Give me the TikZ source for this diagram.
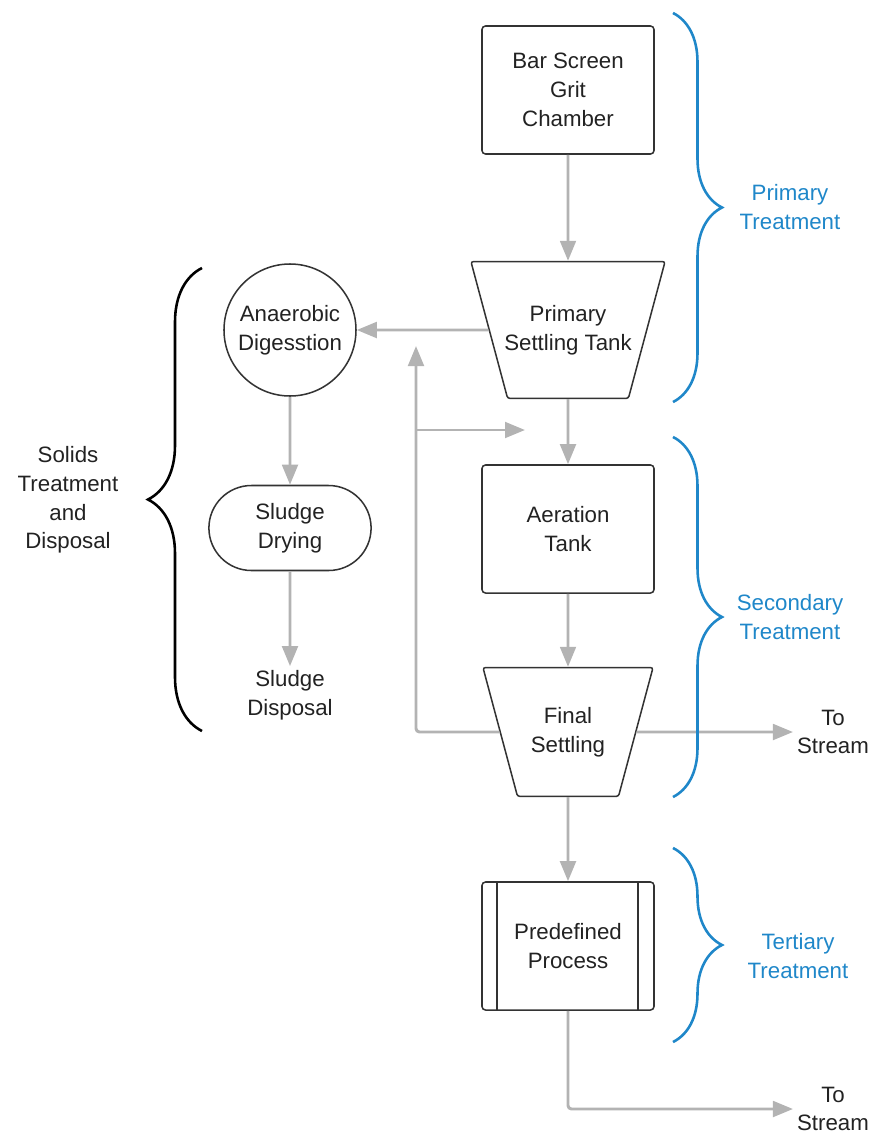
\documentclass[tikz,border=0pt]{standalone}
\usepackage{fontspec}
\setmainfont{Liberation Sans}
\usepackage{xcolor}
\definecolor{linegray}{HTML}{B3B3B3}
\definecolor{bordergray}{HTML}{333333}
\definecolor{textgray}{HTML}{222222}
\definecolor{braceblue}{HTML}{1F87C9}
\usetikzlibrary{positioning,shapes.geometric,shapes.misc,arrows.meta,decorations.pathreplacing}

\begin{document}
\begin{tikzpicture}[x=0.03cm,y=-0.03cm,
    every node/.style={font=\fontsize{19}{24.5}\selectfont,align=center,text=textgray},
    box/.style={draw=bordergray,line width=1.3pt,rounded corners=3pt,minimum width=5.16cm,minimum height=3.84cm,inner sep=0pt},
    tank/.style={draw=bordergray,line width=1.3pt,trapezium,shape border rotate=180,trapezium stretches body=true,trapezium angle=75,rounded corners=2pt,inner xsep=0pt},
    flow/.style={draw=linegray,line width=2.5pt,rounded corners=3pt,-{Triangle[length=0.6cm,width=0.47cm]}},
    bluebrace/.style={draw=braceblue,line width=2.2pt,decorate,decoration={brace,amplitude=1.47cm}},
    bluetext/.style={text=braceblue}]
    \useasboundingbox (0,0) rectangle (874,1135);
    % Main treatment line
    \node[box] (bsg) at (568,90) {Bar Screen\\Grit\\Chamber};
    \node[tank,minimum width=5.73cm,inner xsep=-0.1cm,inner ysep=1.31cm] (pst) at (568,330) {Primary\\Settling Tank};
    \node[box] (aer) at (568,529) {Aeration\\Tank};
    \node[tank,minimum width=5.1cm,inner ysep=1.19cm] (fs) at (568,732) {Final\\Settling};
    \node[box] (pp) at (568,946) {Predefined\\Process};
    \draw[bordergray,line width=1.3pt] ([xshift=0.48cm]pp.north west) -- ([xshift=0.48cm]pp.south west);
    \draw[bordergray,line width=1.3pt] ([xshift=-0.5cm]pp.north east) -- ([xshift=-0.5cm]pp.south east);
    \node (ts1) at (833,732) {To\\Stream};
    \node (ts2) at (833,1109) {To\\Stream};
    % Solids branch
    \node[circle,draw=bordergray,line width=1.3pt,minimum size=3.96cm,inner sep=0pt] (ad) at (290,330) {Anaerobic\\Digesstion};
    \node[rounded rectangle,draw=bordergray,line width=1.3pt,minimum width=5.1cm,minimum height=2.55cm] (sd) at (290,528) {Sludge\\Drying};
    \node (disp) at (290,695) {Sludge\\Disposal};
    % Labels
    \node[bluetext] (lprim) at (790,207) {Primary\\Treatment};
    \node[bluetext] (lsec) at (790,617) {Secondary\\Treatment};
    \node[bluetext] (lter) at (798,956) {Tertiary\\Treatment};
    \node (lsol) at (68,500) {Solids\\Treatment\\and\\Disposal};
    % Return line
    \coordinate (ret) at (416,732);
    \coordinate (rettop) at (416,346);
    \coordinate (jn) at (416,430);
    \coordinate (jnend) at (525,430);
    % Connectors
    \draw[flow] (bsg) -- (pst);
    \draw[flow] (pst) -- (aer);
    \draw[flow] (aer) -- (fs);
    \draw[flow] (fs) -- (pp);
    \draw[flow] (fs) -- (ts1);
    \draw[flow] (pp) |- (ts2);
    \draw[flow] (pst) -- (ad);
    \draw[flow] (ad) -- (sd);
    \draw[flow] (sd) -- (disp);
    \draw[flow] (fs) -- (ret) -- (rettop);
    \draw[flow] (jn) -- (jnend);
    % Braces
    \draw[bluebrace] (673,13) -- (673,402);
    \draw[bluebrace] (673,437) -- (673,797);
    \draw[bluebrace] (673,848) -- (673,1042);
    \draw[black,line width=2.2pt,decorate,decoration={brace,amplitude=1.62cm}] (202,731) -- (202,268);
\end{tikzpicture}
\end{document}
